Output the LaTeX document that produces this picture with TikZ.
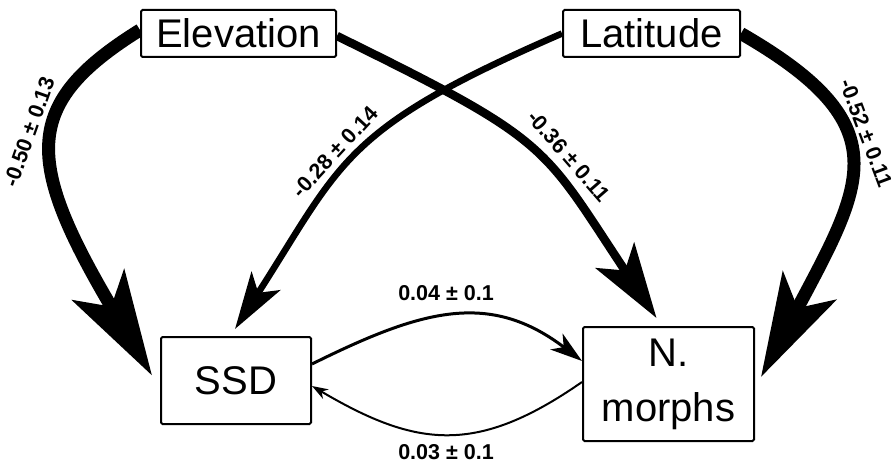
\documentclass[tikz,border=0pt]{standalone}
\usepackage{fontspec}
\setmainfont{Liberation Sans}
\usetikzlibrary{arrows.meta,backgrounds}

\begin{document}
\begin{tikzpicture}[x=1pt,y=1pt]

\tikzset{VarBox/.style = {draw, line width=2pt, rounded corners=1.5pt, fill=white,
            inner sep=0pt, align=center, font=\fontsize{40}{55}\selectfont},
         PathLabel/.style = {inner sep=0pt, font=\bfseries\fontsize{21.5}{26}\selectfont},
         PathEdge/.style = {line width=#1}}

\useasboundingbox (0,0) rectangle (891,464);

\node[VarBox, minimum width=195pt, minimum height=47pt] (Elev) at (238.5,430.5) {Elevation};
\node[VarBox, minimum width=177pt, minimum height=47pt] (Lat) at (651.5,430.5) {Latitude};
\node[VarBox, minimum width=150pt, minimum height=87pt] (SSD) at (236,83.5) {SSD};
\node[VarBox, minimum width=171pt, minimum height=114pt] (NMorph) at (668.5,80) {N.\\morphs};

\begin{scope}[on background layer]
\draw[PathEdge=13pt, -{Stealth[length=105pt,width=60pt,inset=25pt]}]
  ([yshift=3.5pt]Elev.west) .. controls +(-119,-74) and +(-127.5,215) .. ([shift={(-8,5)}]SSD.west);
\draw[PathEdge=8.5pt, -{Stealth[length=75pt,width=46pt,inset=18pt]}]
  ([yshift=-2.5pt]Elev.east) .. controls +(216,-106) and +(-115.5,174) .. ([shift={(-12,8)}]NMorph.north);
\draw[PathEdge=6.5pt, -{Stealth[length=57pt,width=34pt,inset=14pt]}]
  (Lat.west) .. controls +(-221,-96) and +(108,168) .. ([shift={(-1,7)}]SSD.north);
\draw[PathEdge=13pt, -{Stealth[length=103pt,width=60pt,inset=25pt]}]
  (Lat.east) .. controls +(160,-92) and +(103,194) .. ([shift={(6,7)}]NMorph.east);

\draw[PathEdge=3pt, -{Stealth[length=32pt,width=20pt,inset=9pt]}]
  ([yshift=16.5pt]SSD.east) .. controls +(109,54) and +(-93,71) .. ([yshift=23pt]NMorph.west);
\draw[PathEdge=2pt, -{Stealth[length=16pt,width=11pt,inset=5pt]}]
  ([yshift=2pt]NMorph.west) .. controls +(-105,-73) and +(105,-62) .. ([yshift=-5.5pt]SSD.east);
\end{scope}

\node[PathLabel, rotate=70.5] (LabElevSSD) at (29,332) {-0.50 ± 0.13};
\node[PathLabel, rotate=47.3] (LabLatSSD) at (335,312) {-0.28 ± 0.14};
\node[PathLabel, rotate=-49] (LabElevNM) at (569,308) {-0.36 ± 0.11};
\node[PathLabel, rotate=-69.4] (LabLatNM) at (866,331) {-0.52 ± 0.11};
\node[PathLabel] (LabSSDNM) at (446,171) {0.04 ± 0.1};
\node[PathLabel] (LabNMSSD) at (446,12) {0.03 ± 0.1};

\end{tikzpicture}
\end{document}
